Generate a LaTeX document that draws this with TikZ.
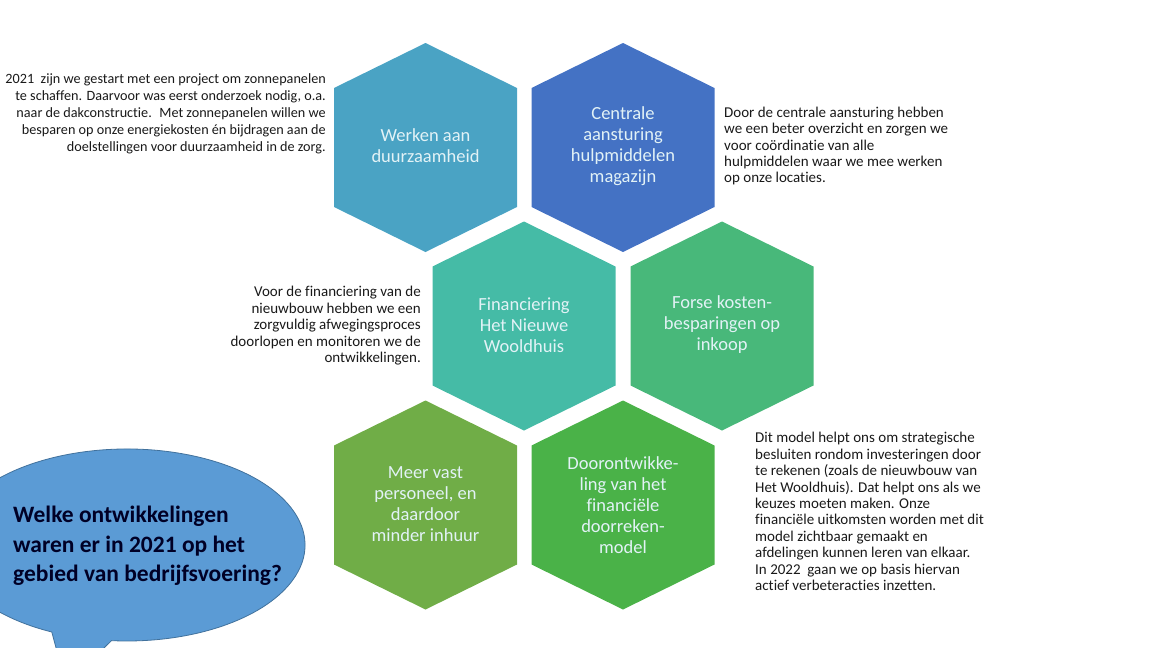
\documentclass[tikz,border=0pt]{standalone}
\usepackage{fontspec}
\setmainfont{Carlito}[Ligatures=NoCommon]
\usepackage{tikz}

\definecolor{hexteal}{RGB}{74,163,196}
\definecolor{hexblue}{RGB}{68,114,196}
\definecolor{hexmint}{RGB}{69,187,166}
\definecolor{hexgreen}{RGB}{72,184,122}
\definecolor{hexolive}{RGB}{112,173,71}
\definecolor{hexlime}{RGB}{74,178,72}
\definecolor{bubblefill}{RGB}{91,155,213}
\definecolor{bubbleline}{RGB}{65,113,156}
\definecolor{hexwhite}{RGB}{226,242,246}
\definecolor{sidetext}{RGB}{25,25,25}

\begin{document}
\begin{tikzpicture}[x=1pt, y=-1pt,
hexa/.pic={\fill (0,-104.5) -- (91.5,-59.5) -- (91.5,59.5) -- (0,104.5) -- (-91.5,59.5) -- (-91.5,-59.5) -- cycle;},
hextext/.style={text=hexwhite, align=center, font=\fontsize{18.5}{21}\selectfont},
sidenote/.style={text=sidetext, font=\fontsize{15}{16.4}\selectfont, inner sep=0pt}]
\useasboundingbox (0,0) rectangle (1152,648);
\clip (0,0) rectangle (1152,648);
% honingraat
\pic[fill=hexteal] at (425.5,147.5) {hexa};
\pic[fill=hexblue] at (623,147.5) {hexa};
\pic[fill=hexmint] at (524,326) {hexa};
\pic[fill=hexgreen] at (722,326) {hexa};
\pic[fill=hexolive] at (425.5,505) {hexa};
\pic[fill=hexlime] at (623,505) {hexa};
\node[hextext] (werken) at (425.5,146) {Werken aan\\duurzaamheid};
\node[hextext] (centraal) at (623,146.5) {Centrale\\aansturing\\hulpmiddelen\\magazijn};
\node[hextext] (financiering) at (524,325) {Financiering\\Het Nieuwe\\Wooldhuis};
\node[hextext] (forse) at (722,325) {Forse kosten-\\besparingen op\\inkoop};
\node[hextext] (personeel) at (425.5,504.5) {Meer vast\\personeel, en\\daardoor\\minder inhuur};
\node[hextext] (model) at (623,505) {Doorontwikke-\\ling van het\\financiële\\doorreken-\\model};
% toelichtingen
\node[sidenote, anchor=east, align=right, font=\fontsize{14.2}{17}\selectfont] (zon) at (326,114) {2021~ zijn we gestart met een project om zonnepanelen\\te schaffen. Daarvoor was eerst onderzoek nodig, o.a.\\naar de dakconstructie.~ Met zonnepanelen willen we\\besparen op onze energiekosten én bijdragen aan de\\doelstellingen voor duurzaamheid in de zorg.};
\node[sidenote, anchor=west, align=left] (overzicht) at (724,146) {Door de centrale aansturing hebben\\we een beter overzicht en zorgen we\\voor coördinatie van alle\\hulpmiddelen waar we mee werken\\op onze locaties.};
\node[sidenote, anchor=east, align=right, font=\fontsize{15}{16.5}\selectfont] (nieuwbouw) at (421,326) {Voor de financiering van de\\nieuwbouw hebben we een\\zorgvuldig afwegingsproces\\doorlopen en monitoren we de\\ontwikkelingen.};
\node[sidenote, anchor=west, align=left] (rekenmodel) at (755,511.5) {Dit model helpt ons om strategische\\besluiten rondom investeringen door\\te rekenen (zoals de nieuwbouw van\\Het Wooldhuis). Dat helpt ons als we\\keuzes moeten maken. Onze\\financiële uitkomsten worden met dit\\model zichtbaar gemaakt en\\afdelingen kunnen leren van elkaar.\\In 2022~ gaan we op basis hiervan\\actief verbeteracties inzetten.};
% tekstballon
\filldraw[fill=bubblefill, draw=bubbleline, line width=0.8pt] (51.8,632) arc[start angle=115, end angle=455, x radius=178, y radius=96] -- (66,685) -- cycle;
\node[anchor=west, align=left, text=black!85!blue, font=\bfseries\fontsize{23.5}{29.5}\selectfont, inner sep=0pt] (vraag) at (13,546) {Welke ontwikkelingen\\waren er in 2021 op het\\gebied van bedrijfsvoering?};
\end{tikzpicture}
\end{document}
